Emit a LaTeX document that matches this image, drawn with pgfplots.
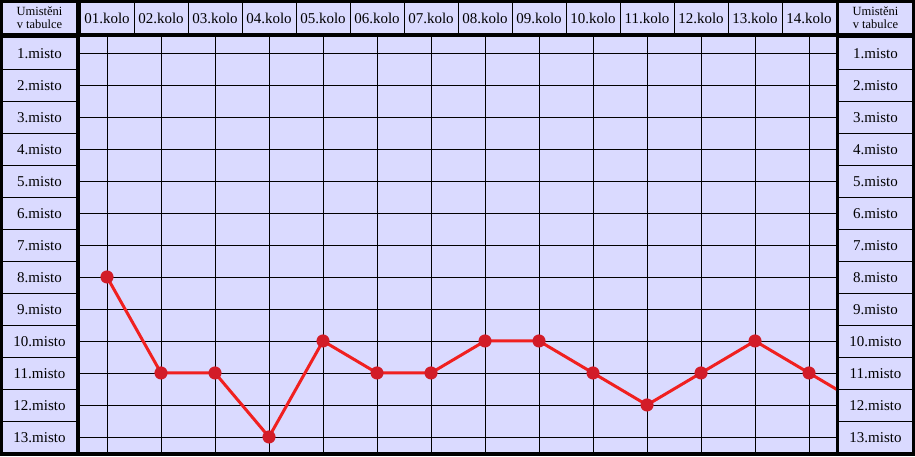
\documentclass[border=0pt]{standalone}
\usepackage{fontspec}
\setmainfont{Liberation Serif}
\usepackage{pgfplots}
\pgfplotsset{compat=1.18}
\definecolor{lav}{RGB}{218,218,255}
\definecolor{lred}{RGB}{240,32,32}
\definecolor{mred}{RGB}{210,28,40}
\begin{document}
\begin{tikzpicture}
% black frame
\fill[black] (0pt,0pt) rectangle (915pt,-456pt);
% header cells
\fill[lav] (3pt,-3pt) rectangle (76pt,-33pt);
\foreach \k in {0,...,13}{
  \fill[lav] ({80pt+54pt*\k+0.5pt},-3pt) rectangle ({80pt+54pt*\k+53.5pt},-33pt);
}
\fill[lav] (839pt,-3pt) rectangle (912pt,-33pt);
% label column cells
\foreach \r in {1,...,12}{
  \fill[lav] (3pt,{-37.5pt-32pt*(\r-1)}) rectangle (76pt,{-36.5pt-32pt*\r});
  \fill[lav] (839pt,{-37.5pt-32pt*(\r-1)}) rectangle (912pt,{-36.5pt-32pt*\r});
}
\fill[lav] (3pt,-421.5pt) rectangle (76pt,-452pt);
\fill[lav] (839pt,-421.5pt) rectangle (912pt,-452pt);
\node[align=center,font=\fontsize{12.5}{13}\selectfont] at (39.5pt,-18pt) {Umistěni\\v tabulce};
\node[align=center,font=\fontsize{12.5}{13}\selectfont] at (875.5pt,-18pt) {Umistěni\\v tabulce};
\begin{axis}[
  at={(80pt,-452pt)}, anchor=south west,
  scale only axis, width=756pt, height=415pt,
  xmin=0.5, xmax=14.5, ymin=0.5, ymax=13.47, y dir=reverse,
  axis background/.style={fill=lav},
  axis line style={draw=none}, tick style={draw=none},
  xtick={1,...,14}, ytick={1,...,13},
  xticklabels={01.kolo,02.kolo,03.kolo,04.kolo,05.kolo,06.kolo,07.kolo,08.kolo,09.kolo,10.kolo,11.kolo,12.kolo,13.kolo,14.kolo},
  yticklabels={1.misto,2.misto,3.misto,4.misto,5.misto,6.misto,7.misto,8.misto,9.misto,10.misto,11.misto,12.misto,13.misto},
  xticklabel pos=right,
  xticklabel style={anchor=center, yshift=18.5pt, font=\fontsize{15}{18}\selectfont, inner sep=0pt},
  yticklabel style={anchor=center, xshift=-40.5pt, yshift=-0.8pt, font=\fontsize{15}{18}\selectfont, inner sep=0pt},
  grid=major, major grid style={black, line width=0.9pt},
]
\addplot[lred, line width=3pt, no marks] coordinates {
(1,8) (2,11) (3,11) (4,13) (5,10) (6,11) (7,11) (8,10) (9,10) (10,11) (11,12) (12,11) (13,10) (14,11) (15,12)};
\addplot[only marks, mark=*, mark size=6.3pt, mark options={fill=mred, draw=mred}] coordinates {
(1,8) (2,11) (3,11) (4,13) (5,10) (6,11) (7,11) (8,10) (9,10) (10,11) (11,12) (12,11) (13,10) (14,11)};
\end{axis}
\begin{axis}[
  at={(80pt,-452pt)}, anchor=south west,
  scale only axis, width=756pt, height=415pt,
  xmin=0.5, xmax=14.5, ymin=0.5, ymax=13.47, y dir=reverse,
  axis line style={draw=none}, tick style={draw=none},
  xtick=\empty, ytick={1,...,13},
  yticklabels={1.misto,2.misto,3.misto,4.misto,5.misto,6.misto,7.misto,8.misto,9.misto,10.misto,11.misto,12.misto,13.misto},
  yticklabel pos=right,
  yticklabel style={anchor=center, xshift=39.5pt, yshift=-0.8pt, font=\fontsize{15}{18}\selectfont, inner sep=0pt},
]
\end{axis}
\end{tikzpicture}
\end{document}
